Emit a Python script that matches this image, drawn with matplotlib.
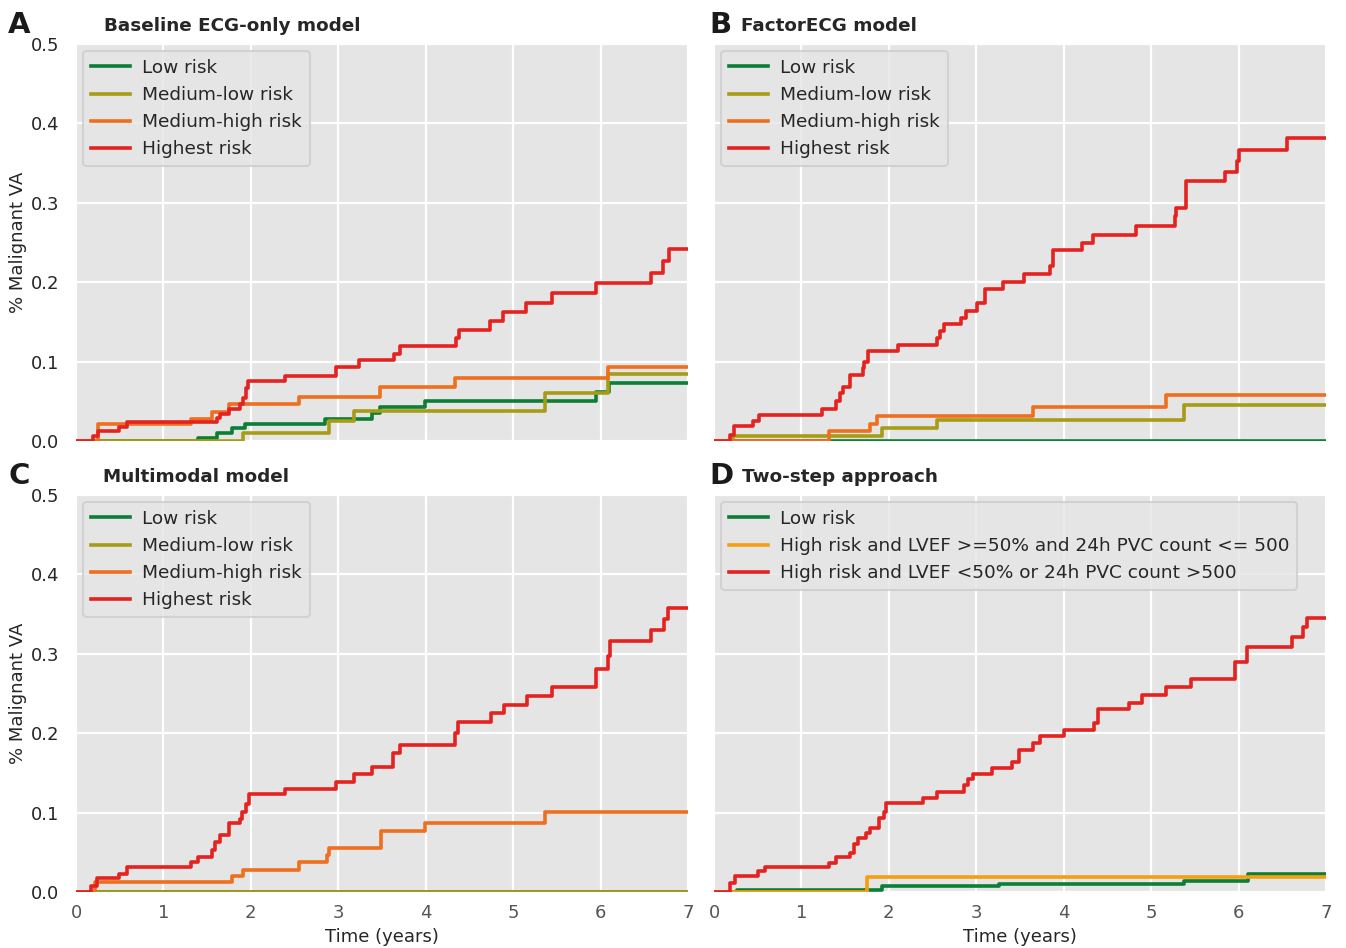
import matplotlib
matplotlib.use("Agg")
import matplotlib.pyplot as plt

plt.style.use("ggplot")
plt.rcParams['font.family'] = ['DejaVu Sans']

# ---------------- data (step curves: event times in years, cumulative incidence) -------------
# Panel A: Baseline ECG-only model
a_low_t = [0, 1.39, 1.61, 1.79, 1.93, 2.85, 3.39, 3.48, 3.99, 5.95, 6.10, 7.0]
a_low_v = [0, 0.004, 0.010, 0.016, 0.021, 0.028, 0.035, 0.043, 0.050, 0.062, 0.073, 0.073]
a_mlow_t = [0, 1.91, 2.89, 3.18, 5.36, 6.09, 7.0]
a_mlow_v = [0, 0.010, 0.025, 0.038, 0.060, 0.085, 0.085]
a_mhigh_t = [0, 0.25, 1.31, 1.56, 1.75, 2.55, 3.48, 4.33, 6.09, 7.0]
a_mhigh_v = [0, 0.021, 0.028, 0.037, 0.046, 0.056, 0.068, 0.079, 0.093, 0.093]
a_high_t = [0, 0.19, 0.25, 0.49, 0.58, 1.61, 1.65, 1.75, 1.88, 1.91, 1.95, 1.97, 2.39, 2.97,
            3.24, 3.64, 3.71, 4.35, 4.38, 4.74, 4.88, 5.15, 5.45, 5.95, 6.58, 6.71, 6.78, 7.0]
a_high_v = [0, 0.006, 0.013, 0.018, 0.024, 0.029, 0.034, 0.040, 0.046, 0.054, 0.067, 0.075, 0.082,
            0.093, 0.102, 0.110, 0.120, 0.130, 0.140, 0.151, 0.163, 0.174, 0.186, 0.199, 0.212,
            0.227, 0.242, 0.242]

# Panel B: FactorECG model
b_low_t = [0, 7.0]
b_low_v = [0, 0]
b_mlow_t = [0, 0.22, 1.92, 2.55, 5.38, 7.0]
b_mlow_v = [0, 0.006, 0.016, 0.026, 0.045, 0.045]
b_mhigh_t = [0, 1.31, 1.79, 1.87, 3.65, 5.17, 7.0]
b_mhigh_v = [0, 0.013, 0.022, 0.032, 0.043, 0.058, 0.058]
b_high_t = [0, 0.18, 0.23, 0.45, 0.52, 1.24, 1.40, 1.44, 1.47, 1.55, 1.70, 1.72, 1.76, 2.11,
            2.55, 2.58, 2.63, 2.83, 2.88, 3.01, 3.10, 3.30, 3.55, 3.84, 3.88, 4.21, 4.33, 4.83,
            5.27, 5.29, 5.40, 5.84, 5.98, 6.01, 6.55, 7.0]
b_high_v = [0, 0.008, 0.019, 0.025, 0.033, 0.040, 0.050, 0.060, 0.068, 0.083, 0.092, 0.100, 0.113,
            0.121, 0.130, 0.138, 0.147, 0.155, 0.164, 0.174, 0.192, 0.200, 0.210, 0.220, 0.240,
            0.250, 0.260, 0.271, 0.283, 0.293, 0.327, 0.339, 0.353, 0.367, 0.382, 0.382]

# Panel C: Multimodal model
c_low_t = [0, 7.0]
c_low_v = [0, 0]
c_mlow_t = [0, 7.0]
c_mlow_v = [0, 0]
c_mhigh_t = [0, 0.22, 1.79, 1.91, 2.55, 2.87, 2.89, 3.49, 3.99, 5.37, 7.0]
c_mhigh_v = [0, 0.012, 0.020, 0.028, 0.038, 0.046, 0.056, 0.077, 0.087, 0.101, 0.101]
c_high_t = [0, 0.17, 0.24, 0.49, 0.58, 1.32, 1.39, 1.56, 1.59, 1.65, 1.75, 1.88, 1.90, 1.94,
            1.98, 2.39, 2.97, 3.18, 3.38, 3.63, 3.71, 4.34, 4.37, 4.75, 4.89, 5.16, 5.45, 5.95,
            6.08, 6.11, 6.58, 6.72, 6.77, 7.0]
c_high_v = [0, 0.007, 0.018, 0.023, 0.031, 0.038, 0.044, 0.053, 0.063, 0.072, 0.087, 0.092, 0.101,
            0.111, 0.123, 0.130, 0.139, 0.148, 0.157, 0.175, 0.185, 0.200, 0.214, 0.225, 0.236,
            0.247, 0.258, 0.281, 0.297, 0.316, 0.330, 0.344, 0.358, 0.358]

# Panel D: Two-step approach
d_low_t = [0, 0.26, 1.92, 3.26, 5.38, 6.11, 7.0]
d_low_v = [0, 0.003, 0.007, 0.010, 0.014, 0.023, 0.023]
d_mid_t = [0, 1.75, 7.0]
d_mid_v = [0, 0.0185, 0.0185]
d_high_t = [0, 0.18, 0.24, 0.50, 0.58, 1.32, 1.39, 1.56, 1.60, 1.65, 1.74, 1.79, 1.89, 1.94,
            1.97, 2.39, 2.55, 2.86, 2.90, 2.96, 3.18, 3.41, 3.49, 3.65, 3.73, 4.00, 4.35, 4.39,
            4.75, 4.89, 5.17, 5.46, 5.96, 6.10, 6.61, 6.74, 6.78, 7.0]
d_high_v = [0, 0.011, 0.020, 0.026, 0.032, 0.037, 0.044, 0.049, 0.061, 0.068, 0.074, 0.080, 0.093,
            0.101, 0.112, 0.119, 0.126, 0.135, 0.142, 0.148, 0.156, 0.164, 0.179, 0.188, 0.196,
            0.204, 0.213, 0.230, 0.238, 0.248, 0.258, 0.268, 0.290, 0.309, 0.321, 0.334, 0.345,
            0.345]

risk_labels = ["Low risk", "Medium-low risk", "Medium-high risk", "Highest risk"]
d_labels = ["Low risk", "High risk and LVEF >=50% and 24h PVC count <= 500",
            "High risk and LVEF <50% or 24h PVC count >500"]
panel_letters = ["A", "B", "C", "D"]
panel_titles = ["Baseline ECG-only model", "FactorECG model", "Multimodal model", "Two-step approach"]
x_ticks = [0, 1, 2, 3, 4, 5, 6, 7]
y_ticks = [0.0, 0.1, 0.2, 0.3, 0.4, 0.5]

# ---------------- style -------------
GREEN = "#0a7f35"
OLIVE = "#a89c16"
ORANGE = "#ee6f1e"
RED = "#e4221f"
YORANGE = "#f5a00f"

W, H = 1346, 948
fig = plt.figure(figsize=(W / 100, H / 100), dpi=100)
fig.patch.set_facecolor("white")

def frac_rect(l, r, t, b):
    return [l / W, 1 - b / H, (r - l) / W, (b - t) / H]

rects = [frac_rect(76, 688, 44, 441), frac_rect(714, 1326, 44, 441),
         frac_rect(76, 688, 495, 892), frac_rect(714, 1326, 495, 892)]

data = [
    [(a_low_t, a_low_v, GREEN), (a_mlow_t, a_mlow_v, OLIVE), (a_mhigh_t, a_mhigh_v, ORANGE), (a_high_t, a_high_v, RED)],
    [(b_low_t, b_low_v, GREEN), (b_mlow_t, b_mlow_v, OLIVE), (b_mhigh_t, b_mhigh_v, ORANGE), (b_high_t, b_high_v, RED)],
    [(c_low_t, c_low_v, GREEN), (c_mlow_t, c_mlow_v, OLIVE), (c_mhigh_t, c_mhigh_v, ORANGE), (c_high_t, c_high_v, RED)],
    [(d_low_t, d_low_v, GREEN), (d_mid_t, d_mid_v, YORANGE), (d_high_t, d_high_v, RED)],
]

letter_pos = [(8, 33), (709, 33), (8, 484), (709, 484)]
title_pos = [(104, 31), (741, 31), (103, 482), (742, 482)]

FS = 13.3

for i in range(4):
    ax = fig.add_axes(rects[i])
    ax.set_facecolor("#e5e5e5")
    labels = d_labels if i == 3 else risk_labels
    for (t, v, c), lab in zip(data[i], labels):
        ax.step(t, v, where="post", color=c, lw=2.6, label=lab)
    ax.set_xlim(0, 7)
    ax.set_ylim(0, 0.5)
    ax.set_xticks(x_ticks)
    ax.set_yticks(y_ticks)
    ax.grid(True, color="white", lw=1.6)
    ax.set_axisbelow(True)
    for s in ax.spines.values():
        s.set_visible(False)
    ax.tick_params(axis="both", length=0, labelsize=13)
    ax.tick_params(axis="x", pad=9, labelcolor="#555555")
    ax.tick_params(axis="y", pad=12, labelcolor="#262626")
    if i in (0, 2):
        ax.set_yticklabels([f"{y:.1f}" for y in y_ticks])
        ax.set_ylabel("% Malignant VA", fontsize=13, color="#262626", labelpad=3)
    else:
        ax.set_yticklabels([])
    if i in (2, 3):
        ax.set_xticklabels([str(x) for x in x_ticks])
        ax.set_xlabel("Time (years)", fontsize=13, color="#262626", labelpad=4)
    else:
        ax.set_xticklabels([])
    leg = ax.legend(loc="upper left", fontsize=FS, frameon=True, handlelength=2.1,
                    borderpad=0.4, labelspacing=0.5, handletextpad=0.7,
                    borderaxespad=0.4)
    leg.get_frame().set_facecolor("#e5e5e5")
    leg.get_frame().set_edgecolor("#cccccc")
    leg.get_frame().set_linewidth(1.5)
    leg.get_frame().set_alpha(0.8)
    for txt in leg.get_texts():
        txt.set_color("#262626")

    lx, ly = letter_pos[i]
    fig.text(lx / W, 1 - ly / H, panel_letters[i], fontsize=21, fontweight="bold",
             color="#1a1a1a", ha="left", va="baseline")
    tx, ty = title_pos[i]
    fig.text(tx / W, 1 - ty / H, panel_titles[i], fontsize=13.2, fontweight="bold",
             color="#262626", ha="left", va="baseline")

fig.savefig("out.png", dpi=100)
